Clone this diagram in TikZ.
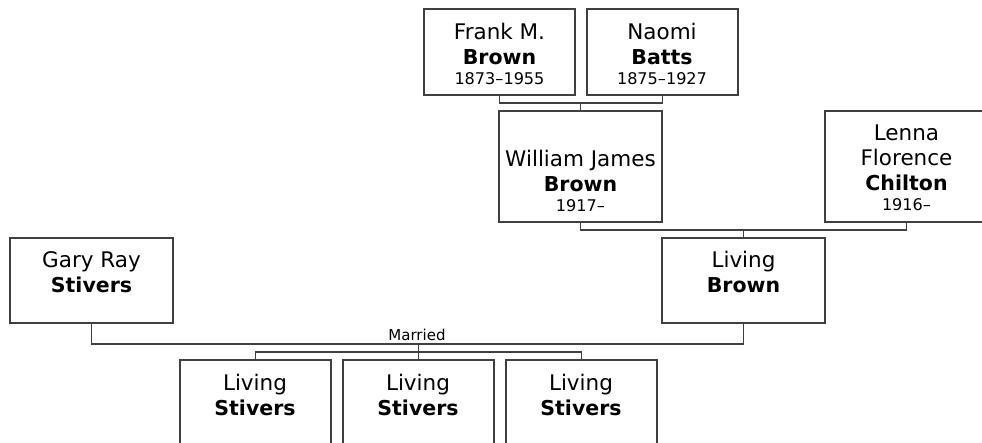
\documentclass[tikz,border=0pt]{standalone}
\usepackage{fontspec}
\setmainfont{DejaVu Sans}
\definecolor{linec}{RGB}{64,64,64}
\newcommand\pdate[1]{\\[-5pt]{\fontsize{16.1}{19}\selectfont #1}}
\newcommand\psur[1]{{\fontsize{20.5}{25}\selectfont\bfseries #1}}
\begin{document}
\begin{tikzpicture}[x=1pt,y=-1pt,
  pbox/.style={draw=linec, line width=1.2pt, rectangle, inner sep=0pt, outer sep=0pt, anchor=north west},
  wide/.style={minimum width=163pt},
  narrow/.style={minimum width=151pt},
  ptext/.style={align=center, anchor=base, inner sep=0pt, font=\fontsize{21.5}{25}\selectfont},
  conn/.style={draw=linec, line width=1.2pt}]
\useasboundingbox (0,0) rectangle (982,443);
\clip (0,0) rectangle (982,443);
% boxes
\node[pbox, narrow, minimum height=86pt] (frank) at (424,9) {};
\node[pbox, narrow, minimum height=86pt] (naomi) at (587,9) {};
\node[pbox, wide, minimum height=111pt] (william) at (499,111) {};
\node[pbox, wide, minimum height=111pt] (lenna) at (825,111) {};
\node[pbox, wide, minimum height=85pt] (gary) at (10,238) {};
\node[pbox, wide, minimum height=85pt] (brown) at (662,238) {};
\node[pbox, narrow, minimum height=86pt] (child1) at (180,360) {};
\node[pbox, narrow, minimum height=86pt] (child2) at (343,360) {};
\node[pbox, narrow, minimum height=86pt] (child3) at (506,360) {};
% texts (anchored at the baseline of their last line)
\node[ptext] (frank-t) at (499.5,85) {Frank M.\\\psur{Brown}\pdate{1873–1955}};
\node[ptext] (naomi-t) at (662,85) {Naomi\\\psur{Batts}\pdate{1875–1927}};
\node[ptext] (william-t) at (580.5,211.5) {William James\\\psur{Brown}\pdate{1917–}};
\node[ptext] (lenna-t) at (906.5,210.5) {Lenna\\Florence\\\psur{Chilton}\pdate{1916–}};
\node[ptext] (gary-t) at (91.5,292.7) {Gary Ray\\\psur{Stivers}};
\node[ptext] (brown-t) at (743.5,292.7) {Living\\\psur{Brown}};
\node[ptext] (child1-t) at (255,415) {Living\\\psur{Stivers}};
\node[ptext] (child2-t) at (418,415) {Living\\\psur{Stivers}};
\node[ptext] (child3-t) at (581,415) {Living\\\psur{Stivers}};
\node[anchor=base, inner sep=0pt, font=\fontsize{15}{18}\selectfont] (married) at (417,340.7) {Married};
% connectors
\draw[conn] (frank.south) -- ++(0,8) -| (naomi.south);
\draw[conn] (william.north) -- ++(0,-8);
\draw[conn] (william.south) -- ++(0,8) -| (lenna.south);
\draw[conn] (brown.north) -- ++(0,-8);
\draw[conn] (gary.south) -- ++(0,21) -| (brown.south);
\draw[conn] (child2.north) -- ++(0,-16);
\draw[conn] (child1.north) -- ++(0,-8) -| (child3.north);
\end{tikzpicture}
\end{document}
